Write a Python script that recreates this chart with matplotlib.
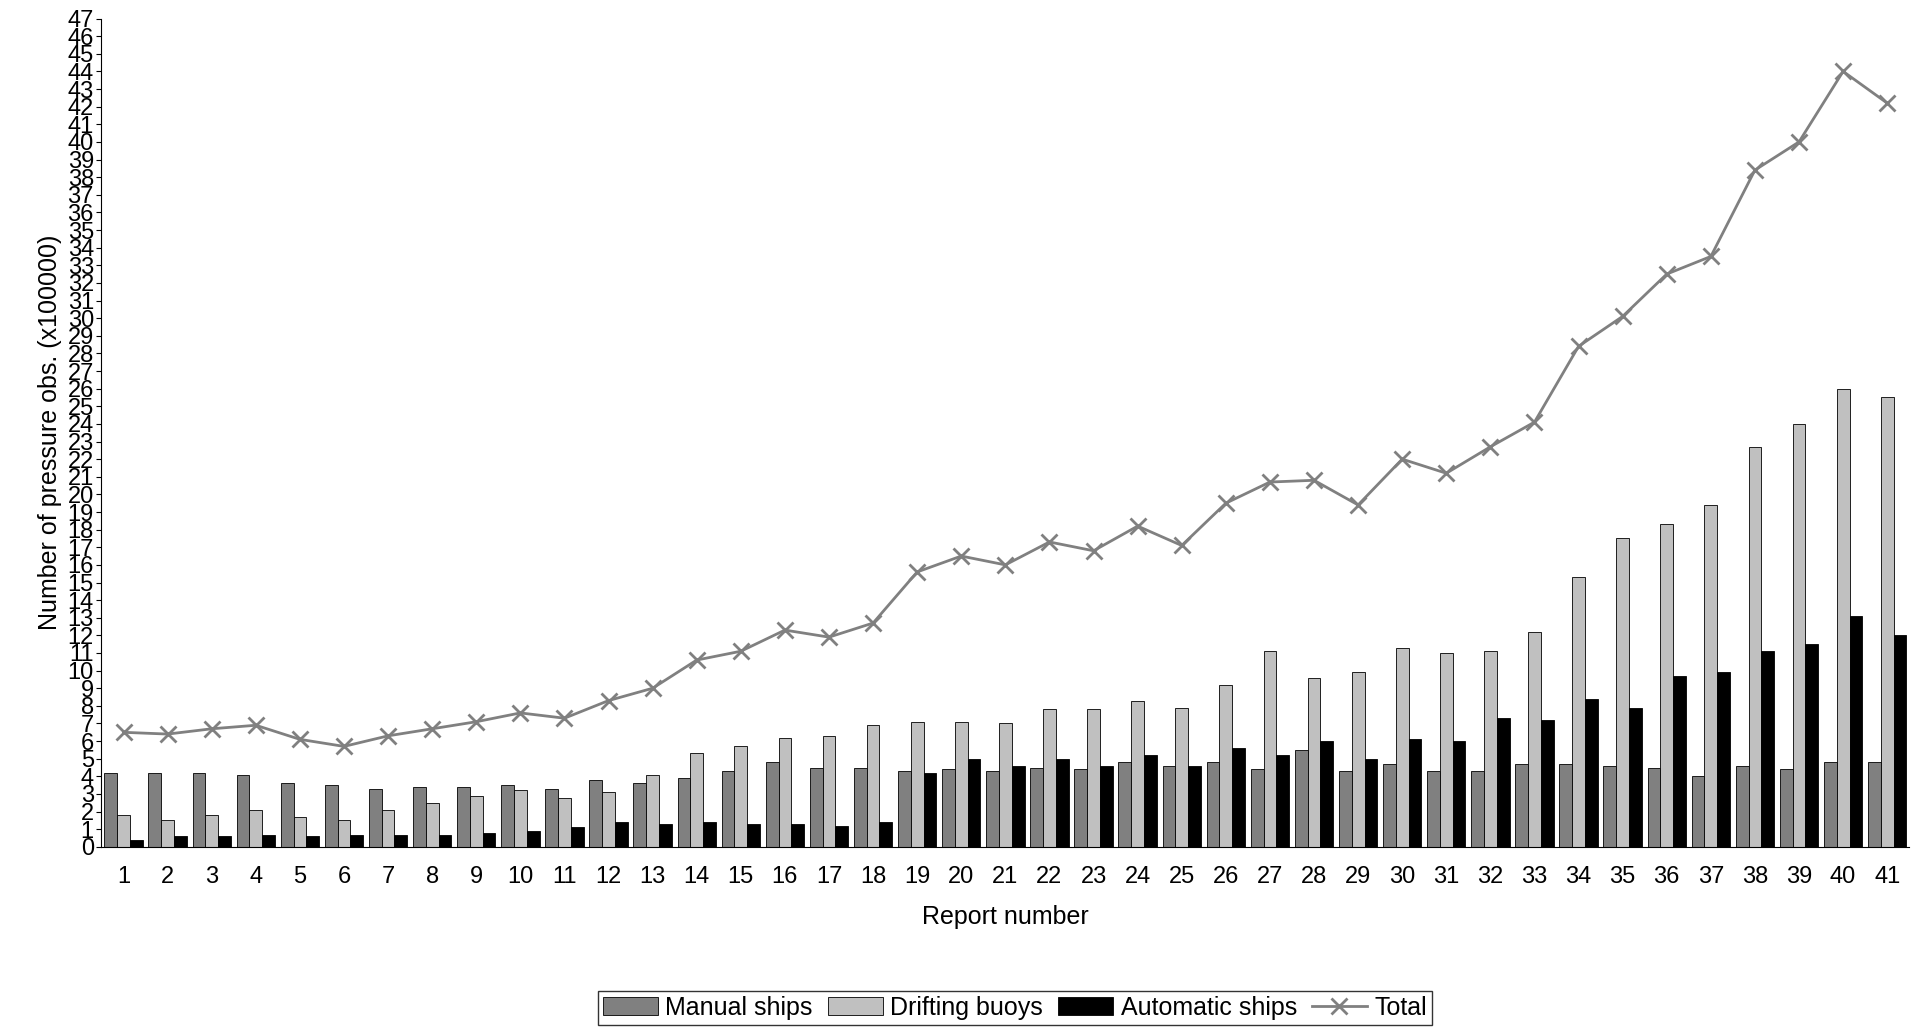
import numpy as np
import matplotlib.pyplot as plt

plt.rcParams['font.family'] = ['Liberation Sans', 'DejaVu Sans']

reports = np.arange(1, 42)
manual = [4.2, 4.2, 4.2, 4.1, 3.6, 3.5, 3.3, 3.4, 3.4, 3.5, 3.3, 3.8, 3.6, 3.9, 4.3, 4.8, 4.5, 4.5, 4.3, 4.4,
          4.3, 4.5, 4.4, 4.8, 4.6, 4.8, 4.4, 5.5, 4.3, 4.7, 4.3, 4.3, 4.7, 4.7, 4.6, 4.5, 4.0, 4.6, 4.4, 4.8, 4.8]
drifting = [1.8, 1.5, 1.8, 2.1, 1.7, 1.5, 2.1, 2.5, 2.9, 3.2, 2.8, 3.1, 4.1, 5.3, 5.7, 6.2, 6.3, 6.9, 7.1, 7.1,
            7.0, 7.8, 7.8, 8.3, 7.9, 9.2, 11.1, 9.6, 9.9, 11.3, 11.0, 11.1, 12.2, 15.3, 17.5, 18.3, 19.4, 22.7, 24.0, 26.0, 25.5]
automatic = [0.4, 0.6, 0.6, 0.7, 0.6, 0.7, 0.7, 0.7, 0.8, 0.9, 1.1, 1.4, 1.3, 1.4, 1.3, 1.3, 1.2, 1.4, 4.2, 5.0,
             4.6, 5.0, 4.6, 5.2, 4.6, 5.6, 5.2, 6.0, 5.0, 6.1, 6.0, 7.3, 7.2, 8.4, 7.9, 9.7, 9.9, 11.1, 11.5, 13.1, 12.0]
total = [6.5, 6.4, 6.7, 6.9, 6.1, 5.7, 6.3, 6.7, 7.1, 7.6, 7.3, 8.3, 9.0, 10.6, 11.1, 12.3, 11.9, 12.7, 15.6, 16.5,
         16.0, 17.3, 16.8, 18.2, 17.1, 19.5, 20.7, 20.8, 19.4, 22.0, 21.2, 22.7, 24.1, 28.4, 30.1, 32.5, 33.5, 38.4, 40.0, 44.0, 42.2]

fig = plt.figure(figsize=(19.15, 10.29), dpi=100)
ax = fig.add_axes([0.053, 0.177, 0.944, 0.805])

w = 0.29
ax.bar(reports - w, manual, w, color='#808080', edgecolor='black', linewidth=0.6, label='Manual ships')
ax.bar(reports, drifting, w, color='#c0c0c0', edgecolor='black', linewidth=0.6, label='Drifting buoys')
ax.bar(reports + w, automatic, w, color='black', edgecolor='black', linewidth=0.6, label='Automatic ships')
ax.plot(reports, total, color='#808080', marker='x', markersize=11, markeredgewidth=2, linewidth=2, label='Total')

ax.set_xlim(0.5, 41.5)
ax.set_ylim(0, 47)
ax.set_yticks(range(0, 48))
ax.set_xticks(reports)
ax.tick_params(labelsize=17)
ax.tick_params(axis='y', pad=2)
ax.tick_params(axis='x', length=0, pad=14)
for s in ['top', 'right']:
    ax.spines[s].set_visible(False)
ax.set_xlabel('Report number', fontsize=18, labelpad=12)
ax.set_ylabel('Number of pressure obs. (x100000)', fontsize=18, labelpad=4)

h, l = ax.get_legend_handles_labels()
order = [1, 2, 3, 0]
fig.legend([h[i] for i in order], [l[i] for i in order], loc='lower center', bbox_to_anchor=(0.53, -0.008),
           ncol=4, fontsize=18, frameon=True, fancybox=False, edgecolor='black', handlelength=2.2,
           columnspacing=0.6, handletextpad=0.3, borderpad=0.2)

fig.savefig('out.png', dpi=100)
